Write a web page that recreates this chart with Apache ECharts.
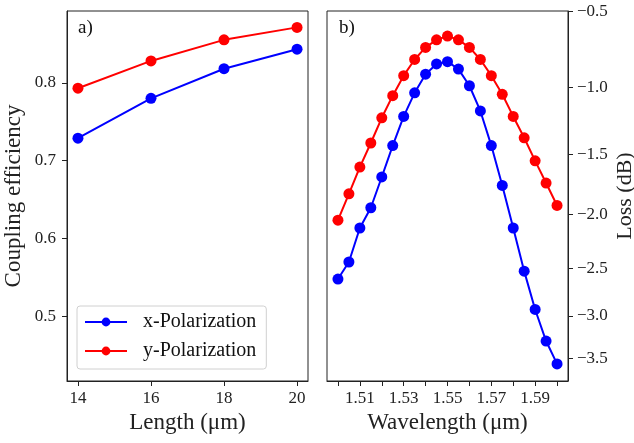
<!DOCTYPE html>
<html>
<head>
<meta charset="utf-8">
<script src="https://cdn.jsdelivr.net/npm/echarts@6/dist/echarts.min.js"></script>
<style>
  html, body { margin: 0; padding: 0; background: #fff; }
  #chart { width: 634px; height: 443px; }
</style>
</head>
<body>
<div id="chart"></div>
<script>
// 左图: 长度 vs 耦合效率
const lengths = [14, 16, 18, 20]
const effX = [0.729, 0.780, 0.818, 0.843]
const effY = [0.793, 0.828, 0.855, 0.871]
const lengthTicks = [14, 16, 18, 20]
const effTicks = [0.5, 0.6, 0.7, 0.8]

// 右图: 波长 vs 损耗 (dB)
const wavelengths = [1.500, 1.505, 1.510, 1.515, 1.520, 1.525, 1.530, 1.535, 1.540, 1.545, 1.550,
  1.555, 1.560, 1.565, 1.570, 1.575, 1.580, 1.585, 1.590, 1.595, 1.600]
const lossX = [-2.61, -2.44, -2.12, -1.94, -1.68, -1.43, -1.21, -1.04, -0.91, -0.84, -0.825,
  -0.875, -0.99, -1.17, -1.43, -1.75, -2.12, -2.53, -2.93, -3.29, -3.57]
const lossY = [-2.05, -1.82, -1.60, -1.41, -1.22, -1.06, -0.92, -0.81, -0.73, -0.68, -0.656,
  -0.68, -0.73, -0.81, -0.92, -1.05, -1.21, -1.37, -1.55, -1.73, -1.92]
const wlTicks = [1.50, 1.51, 1.52, 1.53, 1.54, 1.55, 1.56, 1.57, 1.58, 1.59, 1.60]
const wlLabels = [1.51, 1.53, 1.55, 1.57, 1.59]
const dbTicks = [-0.5, -1.0, -1.5, -2.0, -2.5, -3.0, -3.5]

const FONT = 'Liberation Serif'
const AXIS = '#222'
const yMin = 0.4176
const yMax = 0.892
// 右轴与左轴共享线性效率刻度, 标签显示 dB
const toLin = (db) => Math.pow(10, db / 10)

const chart = echarts.init(document.getElementById('chart'))

const axisCommon = {
  axisLine: { show: true, lineStyle: { color: AXIS, width: 1 } },
  axisTick: { show: true, inside: false, length: 5, lineStyle: { color: AXIS } },
  splitLine: { show: false },
  axisLabel: { color: '#222', fontFamily: FONT, fontSize: 17, margin: 9 },
  nameTextStyle: { color: '#222', fontFamily: FONT, fontSize: 23 },
  nameLocation: 'middle'
}

const option = {
  animation: false,
  textStyle: { fontFamily: FONT },
  grid: [
    { left: 67, right: 326, top: 11, bottom: 62, show: true, borderColor: AXIS, borderWidth: 1, outerBoundsMode: 'none' },
    { left: 327, right: 66, top: 11, bottom: 62, show: true, borderColor: AXIS, borderWidth: 1, outerBoundsMode: 'none' }
  ],
  legend: {
    left: 77,
    top: 306,
    orient: 'vertical',
    data: ['x-Polarization', 'y-Polarization'],
    itemWidth: 42,
    itemHeight: 11,
    itemGap: 9,
    padding: [6, 10, 8, 7],
    borderColor: '#d0d0d0',
    borderWidth: 1,
    borderRadius: 3,
    textStyle: { fontFamily: FONT, fontSize: 20, color: '#111', padding: [0, 0, 0, 11] }
  },
  graphic: [
    { type: 'text', left: 78, top: 19, style: { text: 'a)', font: '19px "Liberation Serif"', fill: '#111' } },
    { type: 'text', left: 339, top: 19, style: { text: 'b)', font: '19px "Liberation Serif"', fill: '#111' } }
  ],
  xAxis: [
    Object.assign({}, axisCommon, {
      type: 'value', gridIndex: 0, min: 13.7, max: 20.3,
      name: 'Length (μm)', nameGap: 30,
      axisTick: Object.assign({}, axisCommon.axisTick, { customValues: lengthTicks }),
      axisLabel: Object.assign({}, axisCommon.axisLabel, { customValues: lengthTicks, formatter: (v) => String(Math.round(v)) })
    }),
    Object.assign({}, axisCommon, {
      type: 'value', gridIndex: 1, min: 1.495, max: 1.605,
      name: 'Wavelength (μm)', nameGap: 30,
      axisTick: Object.assign({}, axisCommon.axisTick, { customValues: wlTicks }),
      axisLabel: Object.assign({}, axisCommon.axisLabel, { customValues: wlLabels, formatter: (v) => v.toFixed(2) })
    })
  ],
  yAxis: [
    Object.assign({}, axisCommon, {
      type: 'value', gridIndex: 0, min: yMin, max: yMax,
      name: 'Coupling efficiency', nameGap: 42,
      axisTick: Object.assign({}, axisCommon.axisTick, { customValues: effTicks }),
      axisLabel: Object.assign({}, axisCommon.axisLabel, { customValues: effTicks, margin: 11, formatter: (v) => v.toFixed(1) })
    }),
    Object.assign({}, axisCommon, {
      type: 'value', gridIndex: 1, position: 'right', min: yMin, max: yMax,
      name: 'Loss (dB)', nameGap: 46,
      nameTextStyle: Object.assign({}, axisCommon.nameTextStyle, { fontSize: 22 }),
      axisTick: Object.assign({}, axisCommon.axisTick, { customValues: dbTicks.map(toLin) }),
      axisLabel: Object.assign({}, axisCommon.axisLabel, {
        customValues: dbTicks.map(toLin),
        formatter: (v) => (10 * Math.log10(v)).toFixed(1).replace('-', '\u2212')
      })
    })
  ],
  series: [
    {
      name: 'x-Polarization', type: 'line', xAxisIndex: 0, yAxisIndex: 0,
      data: lengths.map((l, i) => [l, effX[i]]),
      symbol: 'circle', symbolSize: 11,
      lineStyle: { color: '#0000ff', width: 2 }, itemStyle: { color: '#0000ff' }
    },
    {
      name: 'y-Polarization', type: 'line', xAxisIndex: 0, yAxisIndex: 0,
      data: lengths.map((l, i) => [l, effY[i]]),
      symbol: 'circle', symbolSize: 11,
      lineStyle: { color: '#ff0000', width: 2 }, itemStyle: { color: '#ff0000' }
    },
    {
      name: 'x-Polarization', type: 'line', xAxisIndex: 1, yAxisIndex: 1,
      data: wavelengths.map((w, i) => [w, toLin(lossX[i])]),
      symbol: 'circle', symbolSize: 11,
      lineStyle: { color: '#0000ff', width: 2 }, itemStyle: { color: '#0000ff' }
    },
    {
      name: 'y-Polarization', type: 'line', xAxisIndex: 1, yAxisIndex: 1,
      data: wavelengths.map((w, i) => [w, toLin(lossY[i])]),
      symbol: 'circle', symbolSize: 11,
      lineStyle: { color: '#ff0000', width: 2 }, itemStyle: { color: '#ff0000' }
    }
  ]
}
chart.setOption(option)
</script>
</body>
</html>
